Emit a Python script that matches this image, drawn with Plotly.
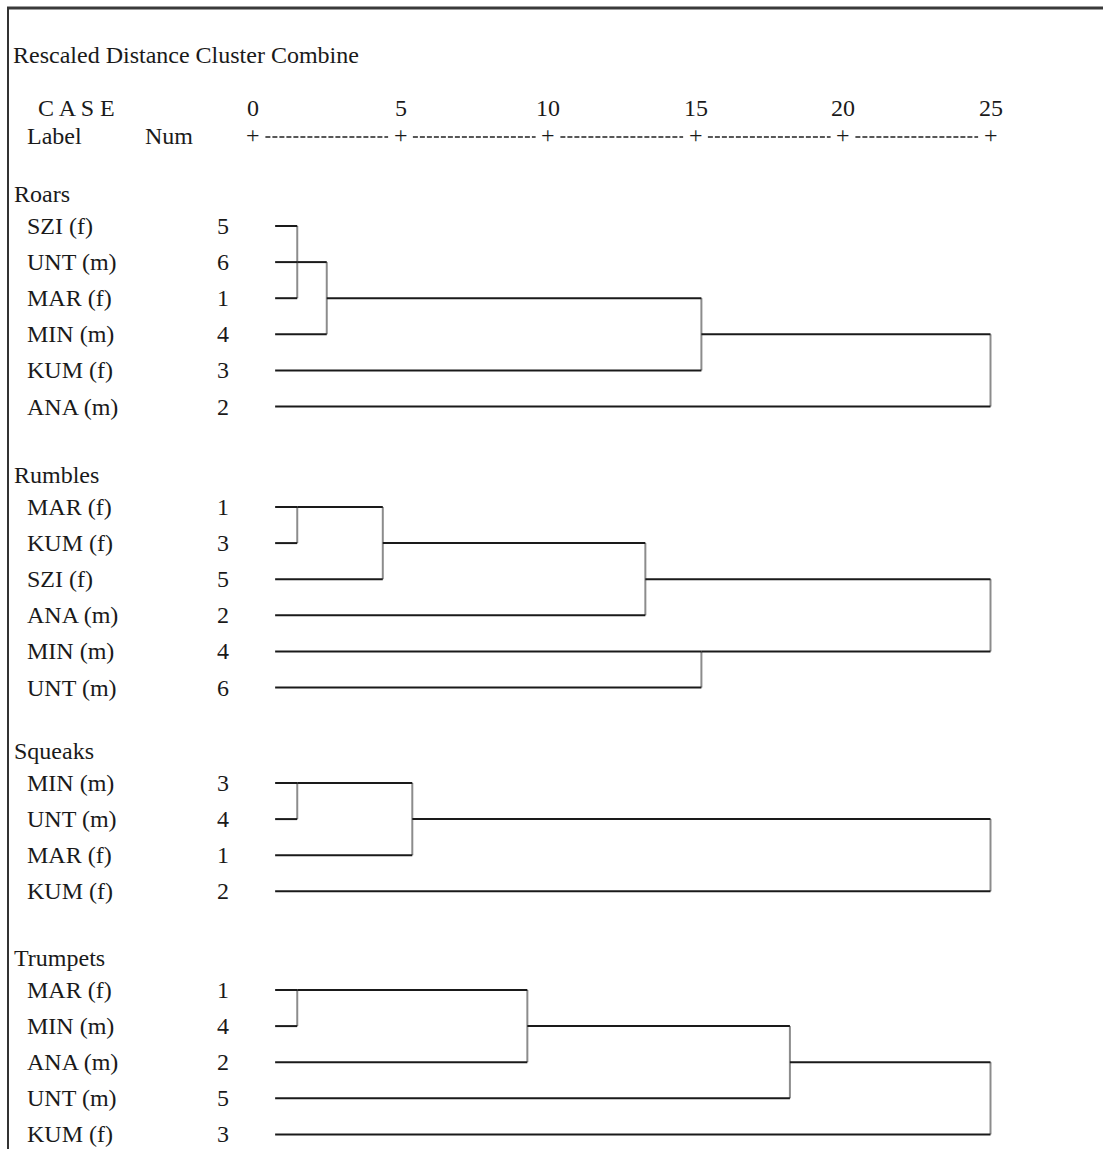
import plotly.graph_objects as go

W, H = 1103, 1149

# ---------------- data ----------------
title_text = "Rescaled Distance Cluster Combine"
tick_values = [0, 5, 10, 15, 20, 25]
tick_labels = ["0", "5", "10", "15", "20", "25"]

group_names = ["Roars", "Rumbles", "Squeaks", "Trumpets"]

roars_labels = ["SZI (f)", "UNT (m)", "MAR (f)", "MIN (m)", "KUM (f)", "ANA (m)"]
roars_nums = [5, 6, 1, 4, 3, 2]
roars_merge_rows = [[0, 1, 2], [1, 3], [2, 4], [3, 5]]
roars_merge_dist = [1.5, 2.5, 15.2, 25.0]
roars_merge_out = [1, 2, 3, 3]

rumbles_labels = ["MAR (f)", "KUM (f)", "SZI (f)", "ANA (m)", "MIN (m)", "UNT (m)"]
rumbles_nums = [1, 3, 5, 2, 4, 6]
rumbles_merge_rows = [[0, 1], [0, 2], [1, 3], [4, 5], [2, 4]]
rumbles_merge_dist = [1.5, 4.4, 13.3, 15.2, 25.0]
rumbles_merge_out = [0, 1, 2, 4, 2]

squeaks_labels = ["MIN (m)", "UNT (m)", "MAR (f)", "KUM (f)"]
squeaks_nums = [3, 4, 1, 2]
squeaks_merge_rows = [[0, 1], [0, 2], [1, 3]]
squeaks_merge_dist = [1.5, 5.4, 25.0]
squeaks_merge_out = [0, 1, 1]

trumpets_labels = ["MAR (f)", "MIN (m)", "ANA (m)", "UNT (m)", "KUM (f)"]
trumpets_nums = [1, 4, 2, 5, 3]
trumpets_merge_rows = [[0, 1], [0, 2], [1, 3], [2, 4]]
trumpets_merge_dist = [1.5, 9.3, 18.2, 25.0]
trumpets_merge_out = [0, 1, 2, 2]

groups = [
    (roars_labels, roars_nums, roars_merge_rows, roars_merge_dist, roars_merge_out),
    (rumbles_labels, rumbles_nums, rumbles_merge_rows, rumbles_merge_dist, rumbles_merge_out),
    (squeaks_labels, squeaks_nums, squeaks_merge_rows, squeaks_merge_dist, squeaks_merge_out),
    (trumpets_labels, trumpets_nums, trumpets_merge_rows, trumpets_merge_dist, trumpets_merge_out),
]

# ---------------- layout constants ----------------
X0_PX, SCALE = 253.0, 29.5          # pixel of distance 0, pixels per unit
XR = [-X0_PX / SCALE, (W - X0_PX) / SCALE]
GROUP_Y = [226, 507, 783, 990]     # first row of each group (page px)
ROW_H = 36.1
HEAD_OFF = 32
LEAF_START = 0.75
FONT = "Liberation Serif"
FS = 24
TXT = "#1a1a1a"

hx, hy, vx, vy = [], [], [], []
annotations = []


def ann(text, x, y, xref="paper", xanchor="left"):
    annotations.append(dict(text=text, x=x, y=y, xref=xref, yref="y",
                            xanchor=xanchor, yanchor="middle", showarrow=False,
                            borderpad=0,
                            font=dict(family=FONT, size=FS, color=TXT)))


for gi, (labels, nums, mrows, mdist, mout) in enumerate(groups):
    y0 = GROUP_Y[gi]
    rowy = [y0 + i * ROW_H for i in range(len(labels))]
    ann(group_names[gi], 13 / W, y0 - HEAD_OFF)
    for i, (lab, n) in enumerate(zip(labels, nums)):
        ann(lab, 26 / W, rowy[i])
        ann(str(n), 223 / W, rowy[i], xanchor="center")
    active = {i: LEAF_START for i in range(len(labels))}
    for rows, d, out in zip(mrows, mdist, mout):
        for r in rows:
            hx.extend([active.pop(r), d, None])
            hy.extend([rowy[r], rowy[r], None])
        vx.extend([d, d, None])
        vy.extend([rowy[min(rows)], rowy[max(rows)], None])
        active[out] = d

# header texts
ann(title_text, 12 / W, 55)
ann("C A S E", 37 / W, 108)
ann("Label", 26 / W, 136)
ann("Num", 144 / W, 136)
for tv, tl in zip(tick_values, tick_labels):
    ann(tl, tv, 108, xref="x", xanchor="center")
    ann("+", tv, 135, xref="x", xanchor="center")

# dashes between the '+' marks
dx, dy = [], []
for a, b in zip(tick_values[:-1], tick_values[1:]):
    dx.extend([a + 0.42, b - 0.42, None])
    dy.extend([137, 137, None])

fig = go.Figure()
fig.add_trace(go.Scatter(x=dx, y=dy, mode="lines", hoverinfo="skip",
                         line=dict(color="#222222", width=1.3, dash="5px,2px")))
fig.add_trace(go.Scatter(x=vx, y=vy, mode="lines", hoverinfo="skip",
                         line=dict(color="#8c8c8c", width=2)))
fig.add_trace(go.Scatter(x=hx, y=hy, mode="lines", hoverinfo="skip",
                         line=dict(color="#1a1a1a", width=2)))

shapes = [
    dict(type="line", xref="paper", yref="y", x0=7 / W, x1=1.0, y0=8, y1=8,
         line=dict(color="#3a3a3a", width=3)),
    dict(type="line", xref="paper", yref="y", x0=8 / W, x1=8 / W, y0=7, y1=H,
         line=dict(color="#333333", width=2)),
]

fig.update_layout(
    width=W, height=H, autosize=False,
    margin=dict(l=0, r=0, t=0, b=0, pad=0),
    paper_bgcolor="white", plot_bgcolor="white",
    showlegend=False,
    xaxis=dict(range=XR, visible=False, fixedrange=True),
    yaxis=dict(range=[H, 0], visible=False, fixedrange=True),
    annotations=annotations, shapes=shapes,
)

fig.write_html("out.html", config={"displayModeBar": False},
               post_script="document.body.style.margin='0';")
